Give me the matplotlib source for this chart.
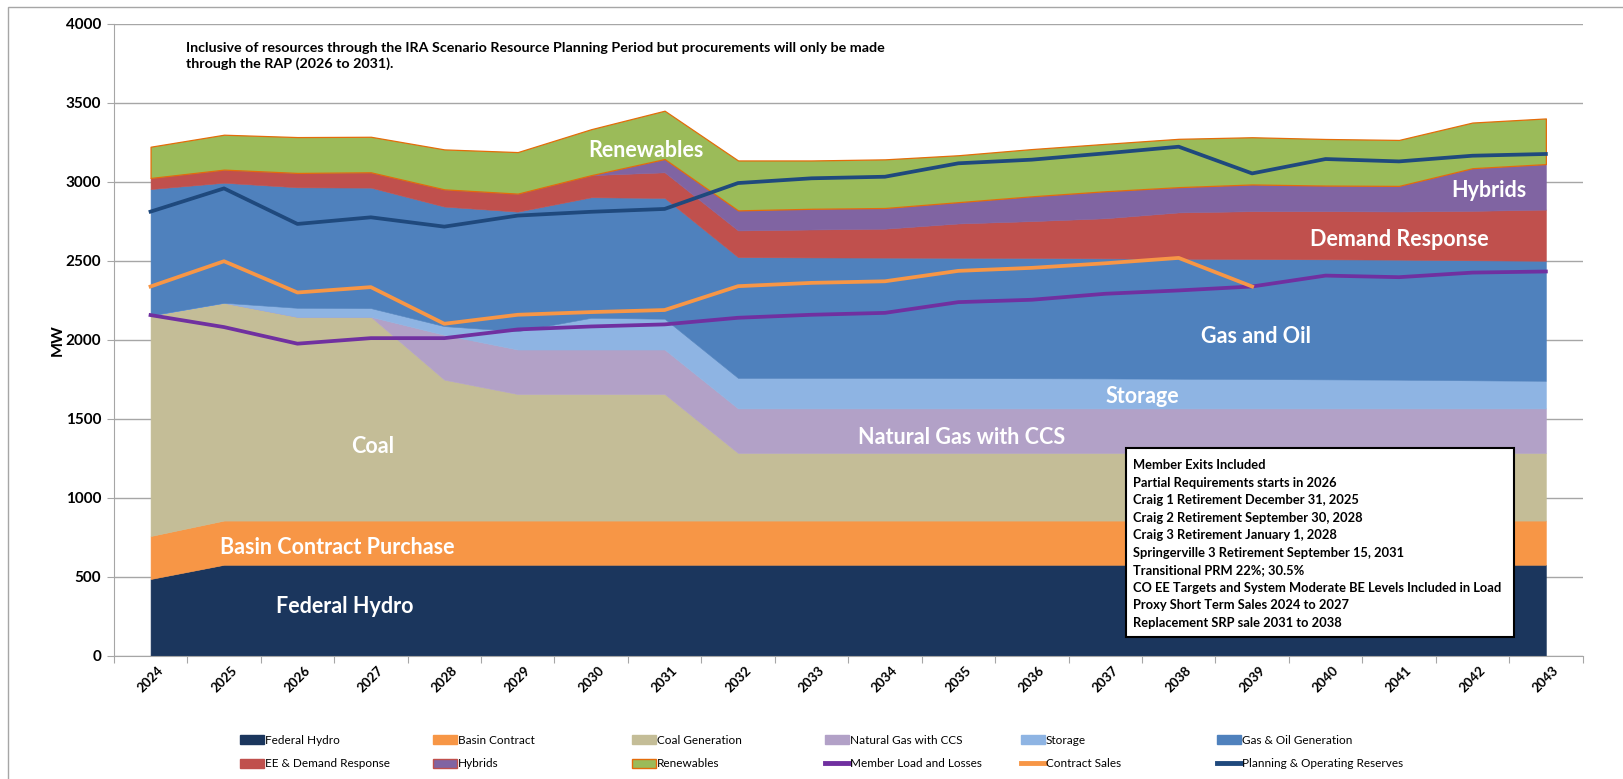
import numpy as np
import matplotlib
matplotlib.use("Agg")
import matplotlib.pyplot as plt
from matplotlib.patches import Patch, Rectangle
from matplotlib.lines import Line2D

plt.rcParams['font.family'] = ['Lato', 'DejaVu Sans']

years = list(range(2024, 2044))

# stacked resources (MW)
federal_hydro = [485] + [575] * 19
basin_contract = [272] + [280] * 19
coal = [1397, 1379, 1290, 1290, 892, 801, 801, 801] + [428] * 12
ng_ccs = [0, 0, 0, 0, 284, 282, 282, 282] + [282] * 12
storage = [0, 0, 57, 55, 55, 116, 201, 195, 193, 193, 193, 192, 191, 190, 188, 186, 184, 182, 178, 175]
gas_oil = [800, 760, 763, 763, 757, 757, 763, 765, 765, 763, 762, 762, 762, 760, 760, 760, 760, 760, 760, 760]
ee_dr = [70, 83, 91, 97, 109, 114, 140, 162, 169, 177, 183, 217, 233, 254, 293, 303, 305, 305, 313, 324]
hybrids = [0, 0, 0, 0, 0, 0, 0, 84, 127, 131, 131, 135, 157, 171, 160, 169, 162, 162, 270, 288]
renewables = [198, 221, 227, 225, 253, 263, 291, 306, 316, 306, 308, 297, 299, 300, 306, 299, 295, 291, 289, 289]

# lines (MW)
member_load = [2156, 2080, 1975, 2010, 2010, 2065, 2084, 2097, 2139, 2158, 2170, 2238, 2253, 2291, 2312, 2337,
               2406, 2396, 2425, 2432]
contract_sales = [2337, 2497, 2299, 2333, 2101, 2158, 2175, 2188, 2339, 2360, 2370, 2436, 2455, 2484, 2518, 2337,
                  None, None, None, None]
reserves = [2811, 2958, 2733, 2775, 2716, 2786, 2810, 2828, 2992, 3022, 3032, 3117, 3140, 3180, 3222, 3053,
            3144, 3129, 3165, 3176]

area_names = ["Federal Hydro", "Basin Contract", "Coal Generation", "Natural Gas with CCS", "Storage",
              "Gas & Oil Generation", "EE & Demand Response", "Hybrids", "Renewables"]
area_colors = ["#1B365D", "#F79646", "#C4BD97", "#B2A1C7", "#8EB4E3", "#4F81BD", "#C0504D", "#8064A2", "#9BBB59"]
line_names = ["Member Load and Losses", "Contract Sales", "Planning & Operating Reserves"]
line_colors = ["#7030A0", "#F79646", "#1F497D"]

notes = ["Member Exits Included",
         "Partial Requirements starts in 2026",
         "Craig 1 Retirement December 31, 2025",
         "Craig 2 Retirement September 30, 2028",
         "Craig 3 Retirement January 1, 2028",
         "Springerville 3 Retirement September 15, 2031",
         "Transitional PRM 22%; 30.5%",
         "CO EE Targets and System Moderate BE Levels Included in Load",
         "Proxy Short Term Sales 2024 to 2027",
         "Replacement SRP sale 2031 to 2038"]

x = np.arange(len(years))
fig = plt.figure(figsize=(16.24, 7.79), dpi=100)
ax = fig.add_axes([0.0701, 0.1584, 0.9044, 0.811])

polys = ax.stackplot(x, federal_hydro, basin_contract, coal, ng_ccs, storage, gas_oil, ee_dr, hybrids,
                     renewables, colors=area_colors, zorder=2)
for p, c in zip(polys, area_colors):
    p.set_edgecolor(c)
    p.set_linewidth(0.4)
polys[-1].set_edgecolor("#E46C0A")
polys[-1].set_linewidth(0.9)

cs = np.array([np.nan if v is None else v for v in contract_sales], dtype=float)
ax.plot(x, member_load, color=line_colors[0], lw=2.7, zorder=4)
ax.plot(x, cs, color=line_colors[1], lw=2.7, zorder=4)
ax.plot(x, reserves, color=line_colors[2], lw=2.7, zorder=5)

ax.set_xlim(-0.5, len(years) - 0.5)
ax.set_ylim(0, 4000)
ax.set_yticks(np.arange(0, 4001, 500))
ax.yaxis.grid(True, color="#A6A6A6", lw=1)
ax.set_axisbelow(True)
ax.set_xticks(np.arange(-0.5, len(years), 1))
ax.set_xticklabels([])
ax.set_xticks(x, minor=True)
ax.set_xticklabels([str(y) for y in years], minor=True, rotation=45, ha="center",
                   fontsize=9.5, fontweight="bold")
ax.tick_params(axis="x", which="minor", length=0, pad=6)
ax.tick_params(axis="x", which="major", length=5, color="#A6A6A6")
ax.tick_params(axis="y", length=5, color="#A6A6A6", labelsize=11, pad=4)
for lab in ax.get_yticklabels():
    lab.set_fontweight("bold")
for s in ["top", "right"]:
    ax.spines[s].set_visible(False)
for s in ["left", "bottom"]:
    ax.spines[s].set_color("#A6A6A6")
ax.set_ylabel("MW", fontsize=11.5, fontweight="bold", labelpad=1)

# white labels inside the areas
tk = dict(color="white", fontweight="bold", fontsize=15.5, ha="center", va="center", zorder=6)
ax.text(6.74, 3200, "Renewables", **tk)
ax.text(18.23, 2944, "Hybrids", **tk)
ax.text(17.0, 2636, "Demand Response", **tk)
ax.text(15.05, 2020, "Gas and Oil", **tk)
ax.text(13.5, 1640, "Storage", **tk)
ax.text(11.04, 1384, "Natural Gas with CCS", **tk)
ax.text(3.03, 1325, "Coal", **tk)
ax.text(2.54, 682, "Basin Contract Purchase", **tk)
ax.text(2.65, 308, "Federal Hydro", **tk)

ax.text(0.48, 3888, "Inclusive of resources through the IRA Scenario Resource Planning Period but procurements "
        "will only be made\nthrough the RAP (2026 to 2031).", fontsize=10.3, fontweight="bold", va="top",
        ha="left", linespacing=1.4)

# notes box
ax.add_patch(Rectangle((0.689, 0.0294), 0.264, 0.2992, transform=ax.transAxes, facecolor="white",
                       edgecolor="black", lw=1.5, zorder=7))
ax.text(0.694, 0.311, "\n".join(notes), transform=ax.transAxes, fontsize=9.3, fontweight="bold",
        va="top", ha="left", linespacing=1.55, zorder=8)

# outer chart frame
fig.patches.append(Rectangle((0.0051, -0.05), 1.1, 1.0407, transform=fig.transFigure, fill=False,
                             edgecolor="#A6A6A6", lw=1))

# legend: 6 columns x 2 rows
handles = [Patch(facecolor=c, edgecolor=c) for c in area_colors]
handles[7] = Patch(facecolor=area_colors[7], edgecolor="#C0504D", lw=1)
handles[8] = Patch(facecolor=area_colors[8], edgecolor="#E46C0A", lw=1)
handles += [Line2D([], [], color=c, lw=3.5) for c in line_colors]
labels = area_names + line_names
col_x = [240, 433, 632, 825, 1021, 1217]
for i, cx in enumerate(col_x):
    fig.legend([handles[i], handles[i + 6]], [labels[i], labels[i + 6]], loc="upper left",
               bbox_to_anchor=(cx / 1624, 1 - 735 / 779), frameon=False, fontsize=8.5,
               handlelength=2.0, handleheight=0.8, handletextpad=0.1, labelspacing=1.05,
               borderpad=0, borderaxespad=0)

fig.savefig("out.png", dpi=100)
